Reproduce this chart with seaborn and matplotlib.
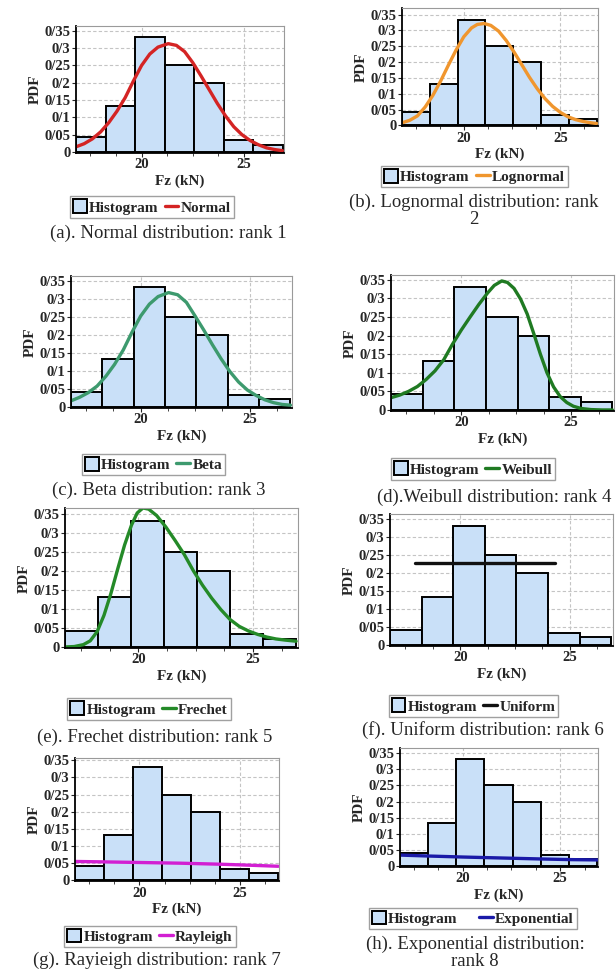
import matplotlib
matplotlib.use("Agg")
import matplotlib.pyplot as plt
from matplotlib.patches import Patch
from matplotlib.lines import Line2D
from matplotlib.ticker import MultipleLocator
import seaborn as sns

# Histogram of Fz (kN), same in every panel
bin_edges = [16.8, 18.24, 19.68, 21.12, 22.56, 24.0, 25.44, 26.88]
hist_heights = [0.042, 0.132, 0.332, 0.25, 0.20, 0.034, 0.021]
y_ticks = [0, 0.05, 0.1, 0.15, 0.2, 0.25, 0.3, 0.35]
y_tick_labels = ["0", "0/05", "0/1", "0/15", "0/2", "0/25", "0/3", "0/35"]
x_ticks = [20, 25]

# fitted curves
normal_x = [16.8, 17.2, 17.6, 18.0, 18.4, 18.8, 19.2, 19.6, 20.0, 20.4, 20.8, 21.3, 21.7,
            22.1, 22.5, 22.9, 23.3, 23.7, 24.1, 24.5, 24.9, 25.3, 25.7, 26.1, 26.5, 26.87]
normal_y = [0.015, 0.024, 0.038, 0.058, 0.085, 0.118, 0.157, 0.205, 0.25, 0.283, 0.303, 0.313, 0.308,
            0.29, 0.258, 0.22, 0.18, 0.14, 0.104, 0.073, 0.05, 0.033, 0.021, 0.012, 0.007, 0.004]

lognormal_x = [16.8, 17.2, 17.6, 18.0, 18.4, 18.8, 19.2, 19.6, 20.0, 20.4, 20.7, 21.05, 21.4, 21.8,
               22.2, 22.6, 23.0, 23.4, 23.8, 24.2, 24.6, 25.0, 25.4, 25.8, 26.2, 26.6, 26.88]
lognormal_y = [0.008, 0.016, 0.03, 0.058, 0.095, 0.14, 0.19, 0.238, 0.28, 0.308, 0.319, 0.322, 0.316, 0.298,
               0.268, 0.232, 0.192, 0.152, 0.116, 0.085, 0.06, 0.041, 0.027, 0.018, 0.012, 0.008, 0.006]

beta_x = [16.8, 17.2, 17.6, 18.0, 18.4, 18.8, 19.2, 19.6, 20.0, 20.4, 20.8, 21.28, 21.7,
          22.1, 22.5, 22.9, 23.3, 23.7, 24.1, 24.5, 24.9, 25.3, 25.7, 26.1, 26.5, 26.88]
beta_y = [0.017, 0.027, 0.04, 0.058, 0.085, 0.118, 0.158, 0.207, 0.252, 0.285, 0.306, 0.317, 0.311,
          0.29, 0.252, 0.213, 0.172, 0.133, 0.098, 0.069, 0.047, 0.032, 0.02, 0.012, 0.007, 0.005]

weibull_x = [16.8, 17.2, 17.6, 18.0, 18.4, 18.8, 19.2, 19.6, 20.0, 20.4, 20.8, 21.2, 21.5, 21.84, 22.1,
             22.4, 22.7, 23.0, 23.3, 23.6, 23.9, 24.2, 24.5, 24.8, 25.1, 25.45, 25.9, 26.4, 26.88]
weibull_y = [0.033, 0.04, 0.05, 0.063, 0.082, 0.105, 0.135, 0.177, 0.215, 0.25, 0.284, 0.315, 0.335, 0.347, 0.343,
             0.327, 0.298, 0.258, 0.205, 0.15, 0.1, 0.062, 0.036, 0.02, 0.01, 0.004, 0.001, 0.0, 0.0]

frechet_x = [16.8, 17.2, 17.6, 17.9, 18.2, 18.5, 18.8, 19.1, 19.4, 19.7, 19.95, 20.2, 20.45, 20.8, 21.2,
             21.6, 22.0, 22.4, 22.8, 23.2, 23.6, 24.0, 24.4, 24.8, 25.2, 25.6, 26.0, 26.4, 26.88]
frechet_y = [0.0, 0.001, 0.006, 0.016, 0.04, 0.083, 0.14, 0.205, 0.268, 0.32, 0.352, 0.365, 0.362, 0.345, 0.315,
             0.28, 0.243, 0.2, 0.162, 0.128, 0.098, 0.072, 0.054, 0.042, 0.033, 0.026, 0.021, 0.018, 0.015]

uniform_x = [17.95, 24.3]
uniform_y = [0.228, 0.228]

rayleigh_x = [16.8, 18.0, 20.0, 22.0, 24.0, 25.5, 26.9]
rayleigh_y = [0.055, 0.054, 0.052, 0.050, 0.047, 0.044, 0.041]

exponential_x = [16.8, 18.3, 20.0, 22.0, 24.0, 25.5, 26.9]
exponential_y = [0.034, 0.031, 0.028, 0.025, 0.022, 0.020, 0.019]

W, H = 616, 977
SERIF = "Liberation Serif"
BAR_COLOR = "#c9e0f8"

sns.set_theme(style="white")
plt.rcParams["font.family"] = [SERIF, "DejaVu Serif"]

fig = plt.figure(figsize=(W / 100, H / 100), dpi=100)


def px_rect(left, top, right, bottom):
    return [left / W, 1 - bottom / H, (right - left) / W, (bottom - top) / H]


def draw_panel(rect, ytop, cx, cy, label, color, legend_xy, caption, caption_xy, colspace=0.4):
    ax = fig.add_axes(px_rect(*rect))
    centers = [(a + b) / 2 for a, b in zip(bin_edges[:-1], bin_edges[1:])]
    sns.histplot(x=centers, weights=hist_heights, bins=bin_edges, ax=ax,
                 color=BAR_COLOR, edgecolor="black", linewidth=1.4, alpha=1)
    sns.lineplot(x=cx, y=cy, ax=ax, color=color, lw=2.4, sort=False)

    ax.set_xlim(16.8, 26.95)
    ax.set_ylim(-0.002, ytop)
    ax.set_yticks(y_ticks)
    ax.set_yticklabels(y_tick_labels)
    ax.set_xticks(x_ticks)
    ax.xaxis.set_minor_locator(MultipleLocator(1.25))
    ax.tick_params(axis="both", which="major", length=3, width=0.8, pad=1,
                   labelsize=10.5, direction="out", left=True, bottom=True)
    ax.tick_params(axis="x", which="minor", length=2, width=0.6, bottom=True)
    for t in ax.get_xticklabels() + ax.get_yticklabels():
        t.set_fontweight("bold")
    ax.grid(True, which="major", ls=(0, (3, 2)), color="#c4c4c4", lw=0.8)
    ax.set_axisbelow(True)
    for s in ["top", "right"]:
        ax.spines[s].set_color("#9a9a9a")
        ax.spines[s].set_linewidth(0.8)
    for s in ["left", "bottom"]:
        ax.spines[s].set_color("black")
        ax.spines[s].set_linewidth(1.3)
    ax.set_xlabel("Fz (kN)", fontsize=11, fontweight="bold", labelpad=2)
    ax.set_ylabel("PDF", fontsize=11, fontweight="bold", labelpad=2)

    handles = [Patch(facecolor=BAR_COLOR, edgecolor="black", lw=1.4),
               Line2D([], [], color=color, lw=2.4)]
    fig.legend(handles, ["Histogram", label], loc="center",
               bbox_to_anchor=(legend_xy[0] / W, 1 - legend_xy[1] / H),
               ncol=2, prop={"family": SERIF, "weight": "bold", "size": 11},
               handlelength=0.9, handleheight=1.0, handletextpad=0.15,
               columnspacing=colspace, borderpad=0.2, borderaxespad=0,
               fancybox=False, edgecolor="#a0a0a0", framealpha=1)
    fig.text(caption_xy[0] / W, 1 - caption_xy[1] / H, caption,
             ha="center", va="center", fontsize=13.5, linespacing=0.95)


draw_panel((76, 26, 284, 152.7), 0.364, normal_x, normal_y, "Normal", "#d42424",
           (152, 207), "(a). Normal distribution: rank 1", (168, 233))
draw_panel((402, 8, 598, 126), 0.371, lognormal_x, lognormal_y, "Lognormal", "#f0962e",
           (474.5, 176.5), "(b). Lognormal distribution: rank\n2", (474, 211))
draw_panel((71, 276, 292, 407.7), 0.363, beta_x, beta_y, "Beta", "#3d9a6e",
           (153.5, 464.5), "(c). Beta distribution: rank 3", (159, 490))
draw_panel((391, 275, 614, 410.7), 0.363, weibull_x, weibull_y, "Weibull", "#1f7a22",
           (473, 469), "(d).Weibull distribution: rank 4", (494, 497))
draw_panel((65, 508, 297.7, 647.7), 0.365, frechet_x, frechet_y, "Frechet", "#248a28",
           (149, 709), "(e). Frechet distribution: rank 5", (155, 737))
draw_panel((390, 514, 612.7, 645.7), 0.364, uniform_x, uniform_y, "Uniform", "#111111",
           (473.5, 706), "(f). Uniform distribution: rank 6", (483, 730))
draw_panel((75, 758.3, 279.3, 881), 0.356, rayleigh_x, rayleigh_y, "Rayleigh", "#d21fd2",
           (150, 936.3), "(g). Rayieigh distribution: rank 7", (157, 960))
draw_panel((400, 748.3, 598.3, 866.7), 0.365, exponential_x, exponential_y, "Exponential", "#1a1aa8",
           (473, 918.3), "(h). Exponential distribution:\nrank 8", (475, 953), colspace=1.4)

fig.savefig("out.png", dpi=100)
